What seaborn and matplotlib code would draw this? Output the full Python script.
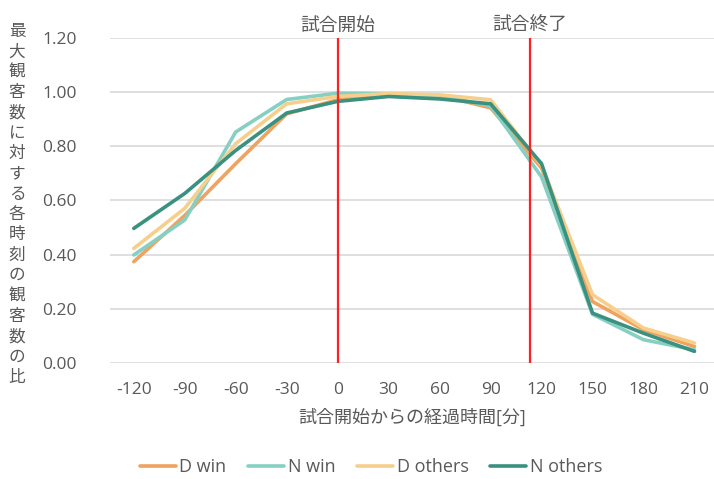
import matplotlib
matplotlib.use("Agg")
import matplotlib.pyplot as plt
import seaborn as sns
import pandas as pd

minutes = [-120, -90, -60, -30, 0, 30, 60, 90, 120, 150, 180, 210]
d_win = [0.374, 0.545, 0.736, 0.920, 0.972, 0.992, 0.988, 0.942, 0.720, 0.227, 0.123, 0.061]
n_win = [0.399, 0.528, 0.853, 0.973, 0.996, 0.994, 0.985, 0.950, 0.687, 0.180, 0.086, 0.049]
d_others = [0.423, 0.571, 0.810, 0.957, 0.984, 0.995, 0.990, 0.972, 0.730, 0.252, 0.129, 0.074]
n_others = [0.497, 0.626, 0.785, 0.923, 0.966, 0.984, 0.975, 0.957, 0.736, 0.184, 0.110, 0.043]

series_names = ["D win", "N win", "D others", "N others"]
series_colors = ["#F0A35E", "#86CFC3", "#F6CF8C", "#3A9180"]
marker_lines = [0, 113]
marker_labels = ["試合開始", "試合終了"]
y_ticks = [0.0, 0.2, 0.4, 0.6, 0.8, 1.0, 1.2]
x_label = "試合開始からの経過時間[分]"
y_label = "最大観客数に対する各時刻の観客数の比"

df = pd.concat(
    [pd.DataFrame({"minute": minutes, "ratio": vals, "series": name})
     for name, vals in zip(series_names, [d_win, n_win, d_others, n_others])],
    ignore_index=True,
)

sns.set_theme(style="white")
plt.rcParams["font.family"] = ["Open Sans", "Noto Sans CJK JP", "DejaVu Sans"]
text_color = "#595959"

fig = plt.figure(figsize=(7.14, 4.79), dpi=100)
ax = fig.add_axes([110 / 714, 1 - 363 / 479, 604 / 714, 325 / 479])

for y in y_ticks:
    ax.axhline(y, color="#D9D9D9", lw=1.2, zorder=0)

sns.lineplot(data=df, x="minute", y="ratio", hue="series", hue_order=series_names,
             palette=series_colors, linewidth=2.6, ax=ax, legend=True,
             sort=False, estimator=None)

for xv, lab in zip(marker_lines, marker_labels):
    ax.axvline(xv, color="#FF2020", lw=1.6, zorder=5)
    ax.text(xv, 1.212, lab, ha="center", va="bottom", fontsize=13.5,
            color=text_color, transform=ax.transData, clip_on=False)

ax.set_xlim(-134, 221.5)
ax.set_ylim(0, 1.2)
ax.set_xticks(minutes)
ax.set_xticklabels([str(m) for m in minutes])
ax.set_yticks(y_ticks)
ax.set_yticklabels([f"{v:.2f}" for v in y_ticks])
ax.tick_params(axis="both", length=0, labelsize=12.5, labelcolor=text_color)
ax.tick_params(axis="x", pad=14)
ax.tick_params(axis="y", pad=24)
for s in ax.spines.values():
    s.set_visible(False)

ax.set_xlabel(x_label, fontsize=13, color=text_color, labelpad=7)
ax.set_ylabel("")

fig.text(17 / 714, 1 - 205 / 479, "\n".join(y_label), ha="center", va="center",
         fontsize=12, color=text_color, linespacing=1.36)

handles, labels = ax.get_legend_handles_labels()
ax.legend(handles, labels, loc="center", bbox_to_anchor=(371 / 714, 1 - 467 / 479),
          bbox_transform=fig.transFigure, ncol=4, frameon=False, fontsize=13,
          handlelength=2.0, handletextpad=0.2, columnspacing=1.2,
          labelcolor=text_color)

fig.savefig("out.png", dpi=100, facecolor="white")
